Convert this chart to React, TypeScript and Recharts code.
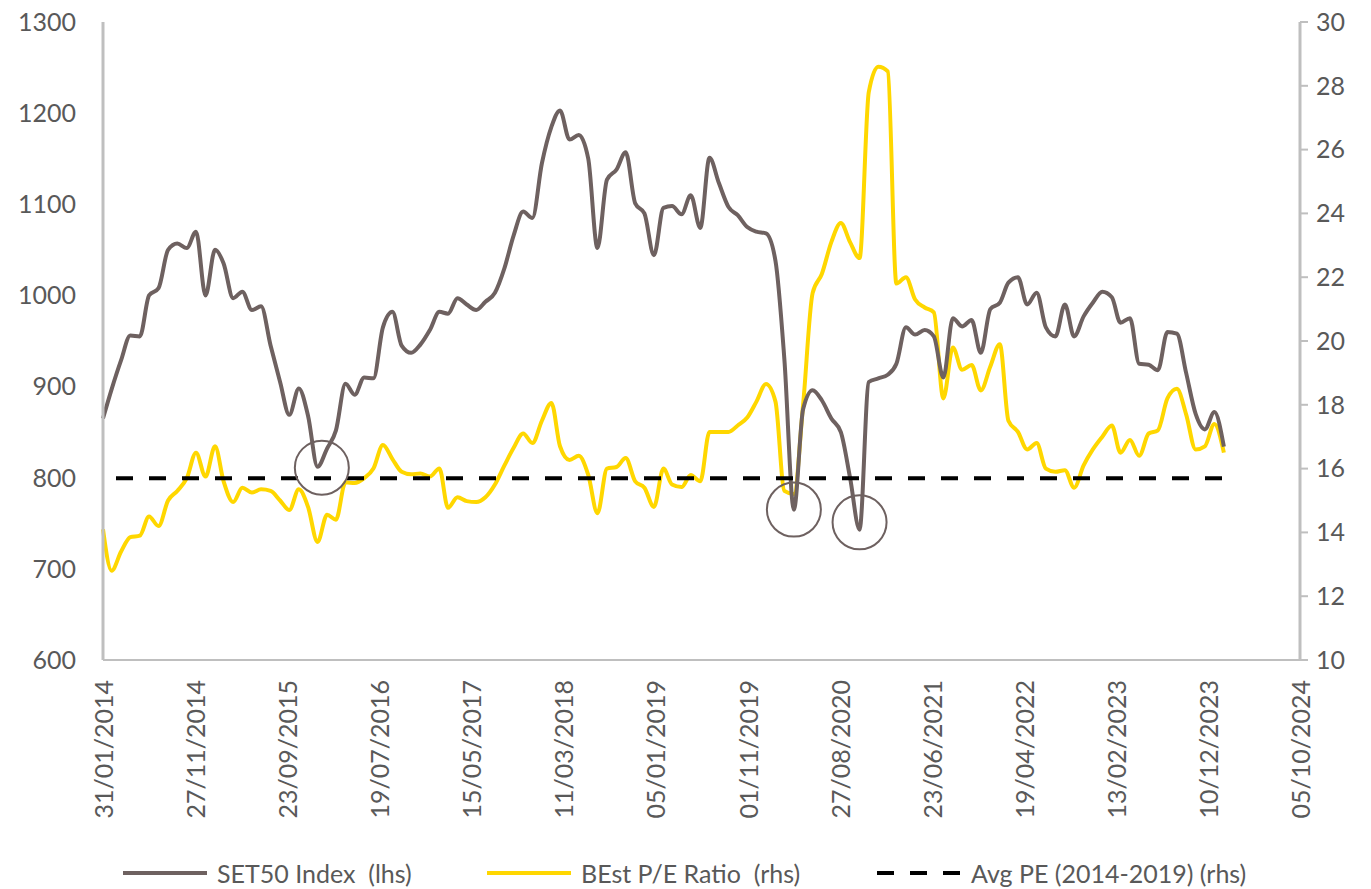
import React from 'react';
import { ComposedChart, Line, XAxis, YAxis, ReferenceDot } from 'recharts';

// month-end observations, Jan 2014 .. Jan 2024
const startYear = 2014;
const set50 = [
  865, 897, 929, 956, 955, 1000, 1008, 1050, 1057, 1052, 1070, 1000,
  1050, 1035, 997, 1004, 984, 988, 945, 905, 869, 898, 868, 812,
  832, 852, 903, 891, 910, 909, 965, 982, 945, 937, 946, 962,
  982, 980, 997, 990, 984, 993, 1003, 1030, 1066, 1092, 1085, 1145,
  1185, 1203, 1171, 1176, 1150, 1052, 1127, 1138, 1157, 1101, 1090, 1044,
  1096, 1098, 1089, 1110, 1074, 1151, 1123, 1097, 1088, 1075, 1070, 1068,
  1038, 930, 765, 875, 896, 885, 865, 850, 800, 743, 905, 909,
  913, 925, 965, 957, 962, 955, 910, 975, 966, 973, 937, 985,
  992, 1014, 1020, 990, 1003, 965, 955, 990, 955, 977, 992, 1004,
  998, 970, 975, 925, 924, 918, 960, 958, 915, 870, 853, 872,
  834,
];
const bestPE = [
  14.1, 12.8, 13.4, 13.85, 13.9, 14.5, 14.2, 15.0, 15.3, 15.7, 16.5, 15.75,
  16.7, 15.6, 14.95, 15.4, 15.25, 15.35, 15.3, 15.0, 14.7, 15.35, 14.8, 13.7,
  14.55, 14.4, 15.57, 15.55, 15.7, 16.0, 16.74, 16.3, 15.9, 15.82, 15.85, 15.75,
  16.0, 14.77, 15.1, 14.98, 14.95, 15.1, 15.5, 16.1, 16.65, 17.1, 16.8, 17.5,
  18.06, 16.7, 16.27, 16.4, 15.8, 14.6, 16.0, 16.05, 16.33, 15.6, 15.4, 14.8,
  16.0, 15.5, 15.42, 15.8, 15.6, 17.15, 17.15, 17.15, 17.35, 17.6, 18.1, 18.65,
  18.1, 15.3, 15.2, 18.0, 21.5, 22.1, 23.1, 23.7, 23.1, 22.6, 27.8, 28.6,
  28.45, 21.8, 22.0, 21.3, 21.05, 20.9, 18.2, 19.8, 19.1, 19.25, 18.45, 19.2,
  19.9, 17.5, 17.15, 16.6, 16.8, 16.0, 15.9, 15.95, 15.4, 16.1, 16.6, 17.0,
  17.35, 16.5, 16.9, 16.4, 17.1, 17.2, 18.2, 18.5, 17.7, 16.6, 16.7, 17.4,
  16.5,
];
const avgPE = 15.7;

const tickLabels = [
  '31/01/2014', '27/11/2014', '23/09/2015', '19/07/2016', '15/05/2017',
  '11/03/2018', '05/01/2019', '01/11/2019', '27/08/2020', '23/06/2021',
  '19/04/2022', '13/02/2023', '10/12/2023', '05/10/2024',
];
const leftTicks = [600, 700, 800, 900, 1000, 1100, 1200, 1300];
const rightTicks = [10, 12, 14, 16, 18, 20, 22, 24, 26, 28, 30];

// circled lows: centre date and SET50 level
const circleDates = ['14/01/2016', '31/03/2020', '31/10/2020'];
const circleLevels = [811, 765, 751];

const toUtc = (s: string) => {
  const [d, m, y] = s.split('/').map(Number);
  return Date.UTC(y, m - 1, d);
};

const data = set50.map((v, i) => ({
  t: Date.UTC(startYear, i + 1, 0),
  set50: v,
  pe: bestPE[i],
  avg: avgPE,
}));

const xTicks = tickLabels.map(toUtc);
const labelOf: Record<number, string> = {};
tickLabels.forEach((l, i) => (labelOf[xTicks[i]] = l));

const FONT = 'Lato, "Liberation Sans", sans-serif';
const TEXT = '#595959';
const AXIS = '#bfbfbf';
const BROWN = '#6e6160';
const GOLD = '#ffd700';

const DateTick = (props: any) => {
  const { x, y, payload } = props;
  return (
    <text
      x={x}
      y={y}
      transform={`rotate(-90, ${x}, ${y})`}
      textAnchor="end"
      dominantBaseline="central"
      fill={TEXT}
      fontSize={25}
      fontFamily={FONT}
    >
      {labelOf[payload.value]}
    </text>
  );
};

const LegendItem = ({ color, dashed, label, left }: any) => (
  <div style={{ position: 'absolute', left, top: 0, display: 'flex', alignItems: 'center', height: 40 }}>
    <svg width={84} height={8} style={{ marginRight: 10 }}>
      <line
        x1={0}
        y1={4}
        x2={84}
        y2={4}
        stroke={color}
        strokeWidth={4}
        strokeDasharray={dashed ? '17 16' : undefined}
      />
    </svg>
    <span style={{ whiteSpace: 'pre', color: TEXT, fontSize: 25, fontFamily: FONT }}>{label}</span>
  </div>
);

export default function App() {
  return (
    <div style={{ position: 'absolute', left: 0, top: 0, width: 1371, height: 889, background: '#fff' }}>
      <ComposedChart width={1371} height={889} data={data} margin={{ top: 22, right: 0, bottom: 89, left: 0 }}>
        <XAxis
          dataKey="t"
          type="number"
          scale="time"
          domain={[xTicks[0], xTicks[xTicks.length - 1]]}
          ticks={xTicks}
          interval={0}
          height={140}
          tickLine={false}
          tickSize={0}
          tickMargin={20}
          axisLine={{ stroke: AXIS, strokeWidth: 2 }}
          tick={DateTick}
        />
        <YAxis
          yAxisId="left"
          domain={[600, 1300]}
          ticks={leftTicks}
          width={103}
          tickLine={false}
          tickSize={0}
          tickMargin={27}
          axisLine={{ stroke: AXIS, strokeWidth: 3 }}
          tick={{ fill: TEXT, fontSize: 25, fontFamily: FONT }}
        />
        <YAxis
          yAxisId="right"
          orientation="right"
          domain={[10, 30]}
          ticks={rightTicks}
          width={71}
          tickSize={8}
          tickMargin={8}
          tickLine={{ stroke: AXIS, strokeWidth: 2 }}
          axisLine={{ stroke: AXIS, strokeWidth: 3 }}
          tick={{ fill: TEXT, fontSize: 25, fontFamily: FONT }}
        />
        <Line
          yAxisId="right"
          dataKey="pe"
          type="monotone"
          stroke={GOLD}
          strokeWidth={4}
          dot={false}
          isAnimationActive={false}
        />
        <Line
          yAxisId="left"
          dataKey="set50"
          type="monotone"
          stroke={BROWN}
          strokeWidth={4}
          dot={false}
          isAnimationActive={false}
        />
        <Line
          yAxisId="right"
          dataKey="avg"
          type="linear"
          stroke="#000"
          strokeWidth={4}
          strokeDasharray="17 16"
          strokeDashoffset={20}
          dot={false}
          isAnimationActive={false}
        />
        {circleDates.map((d, i) => (
          <ReferenceDot
            key={d}
            yAxisId="left"
            x={toUtc(d)}
            y={circleLevels[i]}
            r={27}
            fill="none"
            stroke={BROWN}
            strokeWidth={2}
            ifOverflow="visible"
          />
        ))}
      </ComposedChart>
      <div style={{ position: 'absolute', left: 0, top: 853, width: 1371, height: 40 }}>
        <LegendItem color={BROWN} label="SET50 Index  (lhs)" left={123} />
        <LegendItem color={GOLD} label="BEst P/E Ratio  (rhs)" left={487} />
        <LegendItem color="#000" dashed label="Avg PE (2014-2019) (rhs)" left={877} />
      </div>
    </div>
  );
}
